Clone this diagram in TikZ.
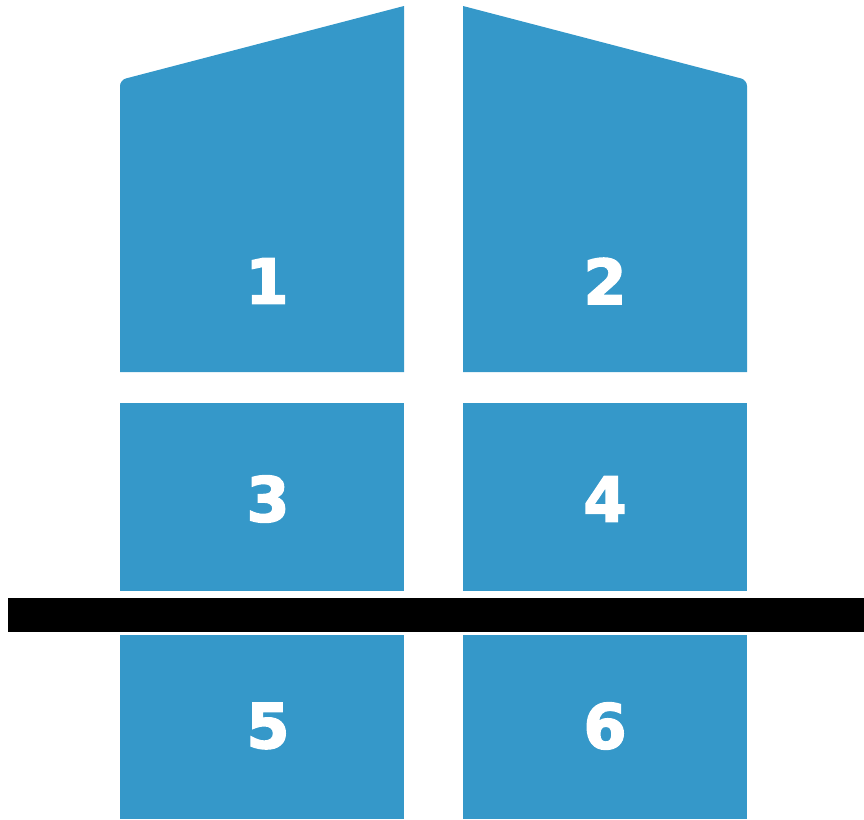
\documentclass[tikz,border=0pt]{standalone}
\usepackage{fontspec}
\setmainfont{DejaVu Sans}
\newfontfamily\numfont[BoldFeatures={FakeBold=2.5}]{DejaVu Sans}
\definecolor{panelblue}{RGB}{53,152,201}
\begin{document}
\begin{tikzpicture}[x=1pt,y=-1pt,
  panel/.style={fill=panelblue,draw=none},
  num/.style={text=white,font=\numfont\fontsize{62}{62}\selectfont\bfseries,inner sep=0pt,anchor=center}]
\useasboundingbox (0,0) rectangle (864,819);
% upper panels
\fill[panelblue] (120,372) -- (120,92) [rounded corners=6pt] -- (120,80) [sharp corners] -- (404,6) -- (404,372) -- cycle;
\fill[panelblue] (463,372) -- (463,6) [rounded corners=6pt] -- (747,80) [sharp corners] -- (747,92) -- (747,372) -- cycle;
% middle panels
\fill[panelblue] (120,403) rectangle (404,591);
\fill[panelblue] (463,403) rectangle (747,591);
% lower panels
\fill[panelblue] (120,635) rectangle (404,819);
\fill[panelblue] (463,635) rectangle (747,819);
% black bar
\fill[black] (8,598) rectangle (864,632);
% numbers
\node[num] (n1) at (267,281) {1};
\node[num] (n2) at (605,281) {2};
\node[num] (n3) at (268,499) {3};
\node[num] (n4) at (605,499) {4};
\node[num] (n5) at (268,726) {5};
\node[num] (n6) at (605,726) {6};
\end{tikzpicture}
\end{document}
